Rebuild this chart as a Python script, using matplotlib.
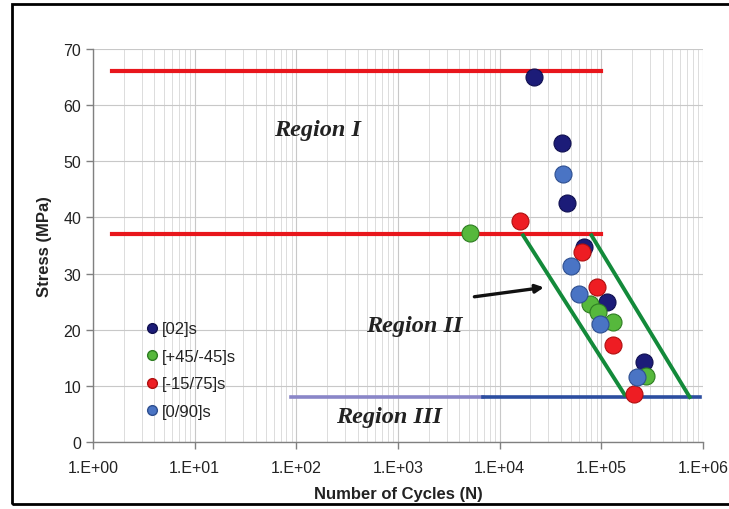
import matplotlib
matplotlib.use("Agg")
import matplotlib.pyplot as plt
from matplotlib.patches import Rectangle
from matplotlib.ticker import LogLocator, FixedLocator

plt.rcParams['font.family'] = ['Liberation Sans', 'DejaVu Sans']

# Data
labels = ["[02]s", "[+45/-45]s", "[-15/75]s", "[0/90]s"]
colors = ["#1c1c78", "#56b83c", "#ee1d23", "#4a74c4"]
edge_colors = ["#101050", "#2e7d22", "#b01010", "#2e4f90"]

n_02 = [21700, 40900, 45800, 67700, 112500, 262000]
s_02 = [65.0, 53.3, 42.6, 34.7, 24.9, 14.3]

n_45 = [5090, 77100, 93000, 128900, 278000]
s_45 = [37.3, 24.6, 23.1, 21.3, 11.8]

n_15 = [15800, 64700, 91000, 128900, 209000]
s_15 = [39.4, 33.8, 27.6, 17.3, 8.6]

n_090 = [42100, 49800, 60500, 96700, 222000]
s_090 = [47.7, 31.4, 26.4, 21.0, 11.5]

series_n = [n_02, n_45, n_15, n_090]
series_s = [s_02, s_45, s_15, s_090]

# Region boundary lines
red_x = [1.55, 1.0e5]
red_y1 = 66.1
red_y2 = 37.0
blue_x_light = [88, 6800]
blue_x_dark = [6800, 9.3e5]
blue_y = 8.0
green_left_x = [17000, 170000]
green_left_y = [36.8, 8.4]
green_right_x = [80000, 740000]
green_right_y = [36.8, 8.0]
arrow_from = (5300, 25.8)
arrow_to = (29000, 27.6)

fig = plt.figure(figsize=(7.29, 5.10), dpi=100)
ax = fig.add_axes([0.1276, 0.1314, 0.8367, 0.7706])

ax.set_xscale('log')
ax.set_xlim(1, 1e6)
ax.set_ylim(0, 70)

# grid
ax.xaxis.set_major_locator(LogLocator(base=10, numticks=10))
ax.xaxis.set_minor_locator(LogLocator(base=10, subs=range(2, 10), numticks=20))
ax.yaxis.set_major_locator(FixedLocator(range(0, 71, 10)))
ax.grid(True, which='major', axis='both', color='#c8c8c8', lw=0.8)
ax.grid(True, which='minor', axis='x', color='#dcdcdc', lw=0.7)
ax.set_axisbelow(True)

for sp in ['top', 'right']:
    ax.spines[sp].set_visible(False)
for sp in ['left', 'bottom']:
    ax.spines[sp].set_color('#808080')
    ax.spines[sp].set_linewidth(1.0)

ax.tick_params(axis='both', which='major', labelsize=11.5, colors='#808080',
               labelcolor='#222222', length=5, width=1)
ax.tick_params(axis='x', which='minor', length=0)
ax.set_xticks([10**k for k in range(7)])
ax.set_xticklabels([f"1.E+0{k}" for k in range(7)])
ax.xaxis.set_tick_params(pad=8)

ax.set_xlabel("Number of Cycles (N)", fontsize=12, fontweight='bold', color='#222222', labelpad=8)
ax.set_ylabel("Stress (MPa)", fontsize=12, fontweight='bold', color='#222222', labelpad=8)

# Lines
ax.plot(red_x, [red_y1, red_y1], color='#e8161c', lw=3.0, zorder=3)
ax.plot(red_x, [red_y2, red_y2], color='#e8161c', lw=3.0, zorder=3)
ax.plot(blue_x_light, [blue_y, blue_y], color='#8a86c8', lw=2.6, zorder=3)
ax.plot(blue_x_dark, [blue_y, blue_y], color='#2c4ea0', lw=2.6, zorder=3)
ax.plot(green_left_x, green_left_y, color='#138a3a', lw=2.8, zorder=3)
ax.plot(green_right_x, green_right_y, color='#138a3a', lw=2.8, zorder=3)
ax.annotate("", xy=arrow_to, xytext=arrow_from,
            arrowprops=dict(arrowstyle='-|>', color='#111111', lw=2.4,
                            mutation_scale=12), zorder=4)

# Points
for n, s, c, ec, lab in zip(series_n, series_s, colors, edge_colors, labels):
    ax.scatter(n, s, s=150, color=c, edgecolors=ec, linewidths=0.8, zorder=5)
    ax.plot([], [], 'o', color=c, markeredgecolor=ec, markersize=7, label=lab)

leg = ax.legend(loc='upper left', bbox_to_anchor=(0.058, 0.345), frameon=False,
                fontsize=12, handletextpad=0.1, labelspacing=0.75, handlelength=1.0,
                markerscale=1.0)
for t in leg.get_texts():
    t.set_color('#222222')

# Region labels
rfont = dict(family=['Liberation Serif', 'DejaVu Serif'], fontweight='bold',
             style='italic', fontsize=17.5, color='#222222', ha='center', va='center')
ax.text(163, 55.6, "Region I", **rfont)
ax.text(1430, 20.7, "Region II", **rfont)
ax.text(815, 4.6, "Region III", **rfont)

# Outer frame
fig.patches.append(Rectangle((12/729, 5/510), (729-12)/729 + 0.01, (505-5)/510,
                             transform=fig.transFigure, fill=False,
                             edgecolor='black', lw=2.0))

fig.savefig("out.png", dpi=100)
